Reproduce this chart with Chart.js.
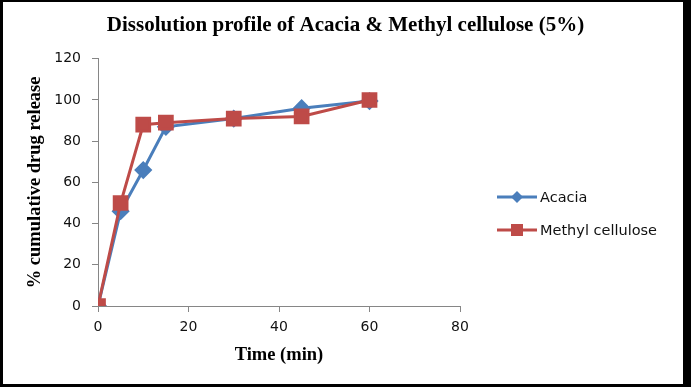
<!DOCTYPE html>
<html>
<head>
<meta charset="utf-8">
<script src="https://cdn.jsdelivr.net/npm/chart.js@4/dist/chart.umd.min.js"></script>
<style>
  html, body { margin: 0; background: #fff; overflow: hidden; }
  canvas { display: block; }
  #frame {
    position: fixed; left: 0; top: 0; right: 0; bottom: 0;
    border-style: solid; border-color: #000;
    border-width: 2px 8px 3px 3px;
    pointer-events: none;
  }
</style>
</head>
<body>
<canvas id="chart" width="691" height="387"></canvas>
<div id="frame"></div>
<script>
const times = [0, 5, 10, 15, 30, 45, 60];
const acacia = [0, 46, 66, 87, 91, 96, 99.5];
const methylCellulose = [0, 50, 88, 89, 91, 92, 100];
const xTicks = [0, 20, 40, 60, 80];
const yTicks = [0, 20, 40, 60, 80, 100, 120];

const toPoints = (vals) => times.map((t, i) => ({x: t, y: vals[i]}));

// excel style legend: short line with the marker on it
const legendPlugin = {
  id: "sideLegend",
  afterDraw(chart) {
    const ctx = chart.ctx;
    ctx.save();
    chart.data.datasets.forEach((ds, i) => {
      const y = 197 + i * 33;
      ctx.strokeStyle = ds.borderColor;
      ctx.lineWidth = 3;
      ctx.beginPath();
      ctx.moveTo(497, y);
      ctx.lineTo(537, y);
      ctx.stroke();
      ctx.fillStyle = ds.backgroundColor;
      if (ds.pointStyle === "rect") {
        ctx.fillRect(511, y - 6, 12, 12);
      } else {
        ctx.beginPath();
        ctx.moveTo(517, y - 6);
        ctx.lineTo(523, y);
        ctx.lineTo(517, y + 6);
        ctx.lineTo(511, y);
        ctx.closePath();
        ctx.fill();
      }
      ctx.fillStyle = "#111";
      ctx.font = "14.5px 'DejaVu Sans'";
      ctx.textBaseline = "middle";
      ctx.fillText(ds.label, 540, y + 1);
    });
    ctx.restore();
  }
};

const axisGrid = {
  display: true,
  drawOnChartArea: false,
  drawTicks: true,
  tickLength: 6,
  color: "#868686"
};

new Chart(document.getElementById("chart"), {
  type: "line",
  data: {
    datasets: [
      {
        label: "Acacia",
        data: toPoints(acacia),
        borderColor: "#4A7EBB",
        backgroundColor: "#4A7EBB",
        borderWidth: 3,
        pointStyle: "rectRot",
        pointRadius: 7,
        pointHoverRadius: 7,
        order: 1
      },
      {
        label: "Methyl cellulose",
        data: toPoints(methylCellulose),
        borderColor: "#BE4B48",
        backgroundColor: "#BE4B48",
        borderWidth: 3,
        pointStyle: "rect",
        pointRadius: 9,
        pointHoverRadius: 9,
        order: 0
      }
    ]
  },
  options: {
    responsive: false,
    animation: false,
    devicePixelRatio: 1,
    layout: { padding: 0 },
    plugins: {
      legend: { display: false },
      tooltip: { enabled: false },
      title: {
        display: true,
        text: "Dissolution profile of Acacia & Methyl cellulose (5%)",
        color: "#000",
        font: { family: "'Liberation Serif'", size: 21, weight: "bold" },
        padding: { top: 13, bottom: 20.6 }
      }
    },
    scales: {
      x: {
        type: "linear",
        min: 0,
        max: 80,
        afterBuildTicks: (axis) => { axis.ticks = xTicks.map(v => ({value: v})); },
        ticks: {
          color: "#111",
          font: { family: "'DejaVu Sans'", size: 14 },
          padding: 7,
          maxRotation: 0
        },
        grid: axisGrid,
        border: { color: "#868686", width: 1 },
        title: {
          display: true,
          text: "Time (min)",
          color: "#000",
          font: { family: "'Liberation Serif'", size: 18.5, weight: "bold" },
          padding: { top: 0, bottom: 21 }
        },
        afterFit: (axis) => { axis.height = 81; }
      },
      y: {
        min: 0,
        max: 120,
        afterBuildTicks: (axis) => { axis.ticks = yTicks.map(v => ({value: v})); },
        ticks: {
          color: "#111",
          font: { family: "'DejaVu Sans'", size: 14 },
          padding: 11
        },
        grid: axisGrid,
        border: { color: "#868686", width: 1 },
        title: {
          display: true,
          text: "% cumulative drug release",
          color: "#000",
          font: { family: "'Liberation Serif'", size: 18.5, weight: "bold" },
          padding: { top: 24, bottom: 0 }
        },
        afterFit: (axis) => { axis.width = 98; }
      },
      // empty axis that only reserves the space where the legend sits
      legendSpace: {
        position: "right",
        min: 0,
        max: 1,
        ticks: { display: false },
        grid: { display: false },
        border: { display: false },
        afterFit: (axis) => { axis.width = 231; }
      }
    }
  },
  plugins: [legendPlugin]
});
</script>
</body>
</html>
